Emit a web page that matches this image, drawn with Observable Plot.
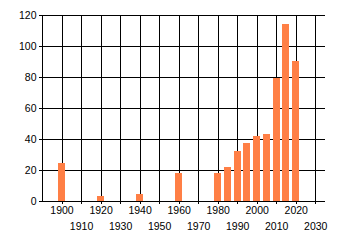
<!DOCTYPE html>
<html>
<head>
<meta charset="utf-8">
<script src="https://cdn.jsdelivr.net/npm/d3@7"></script>
<script src="https://cdn.jsdelivr.net/npm/@observablehq/plot@0.6"></script>
<style>
  html, body { margin: 0; padding: 0; background: white; }
  svg line, svg path, svg rect { shape-rendering: crispEdges; }
</style>
</head>
<body>
<div id="chart"></div>
<script>
const years = [1900, 1920, 1940, 1960, 1980, 1985, 1990, 1995, 2000, 2005, 2010, 2015, 2020];
const values = [24.5, 3.2, 4.5, 18.3, 18.3, 21.9, 32.3, 37.4, 42.1, 43.2, 79.5, 114.2, 90.3];
const xTicksTop = [1900, 1920, 1940, 1960, 1980, 2000, 2020];
const xTicksBottom = [1910, 1930, 1950, 1970, 1990, 2010, 2030];
const yTicks = [0, 20, 40, 60, 80, 100, 120];

const data = years.map((year, i) => ({year, value: values[i]}));
const xTicksAll = [...xTicksTop, ...xTicksBottom].sort((a, b) => a - b);
const halfWidth = 1.8;

const chart = Plot.plot({
  width: 340,
  height: 245,
  marginLeft: 42,
  marginRight: 15,
  marginTop: 15,
  marginBottom: 44,
  style: {fontFamily: "Liberation Sans", fontSize: "10.5px", color: "black", background: "white"},
  x: {domain: [1890, 2035], axis: null},
  y: {domain: [0, 120], axis: null},
  marks: [
    Plot.gridX(xTicksAll, {stroke: "black", strokeOpacity: 1}),
    Plot.gridY(yTicks, {stroke: "black", strokeOpacity: 1}),
    Plot.rectY(data, {x1: d => d.year - halfWidth, x2: d => d.year + halfWidth, y1: 0, y2: "value", fill: "#ff7f45"}),
    Plot.ruleX([1890], {stroke: "black"}),
    Plot.ruleY([0], {stroke: "black"}),
    Plot.axisX({ticks: xTicksAll, tickSize: 3, tickFormat: () => "", label: null}),
    Plot.axisY({ticks: yTicks, tickSize: 3, tickPadding: 3, label: null}),
    Plot.text(xTicksTop, {x: d => d, frameAnchor: "bottom", lineAnchor: "top", dy: 5, text: d => String(d), fill: "black"}),
    Plot.text(xTicksBottom, {x: d => d, frameAnchor: "bottom", lineAnchor: "top", dy: 21, text: d => String(d), fill: "black"})
  ]
});
document.getElementById("chart").appendChild(chart);
</script>
</body>
</html>
